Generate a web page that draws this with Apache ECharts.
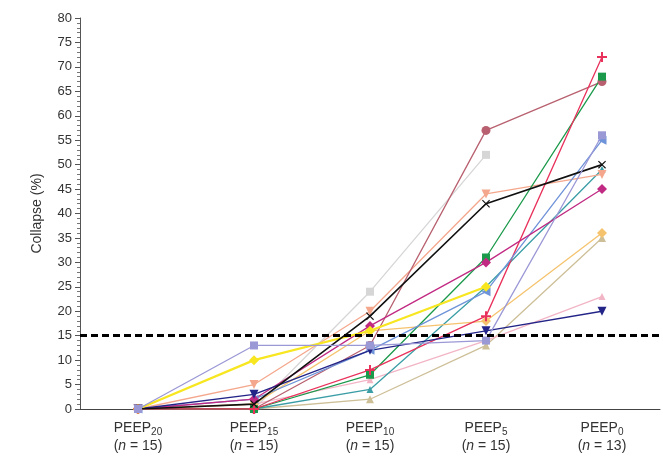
<!DOCTYPE html>
<html>
<head>
<meta charset="utf-8">
<script src="https://cdn.jsdelivr.net/npm/echarts@6/dist/echarts.min.js"></script>
<style>
  html, body { margin: 0; padding: 0; background: #fff; }
  #chart { width: 663px; height: 459px; }
</style>
</head>
<body>
<div id="chart"></div>
<script>
// PEEP levels and patient counts per level
const peepLevels = ['20', '15', '10', '5', '0'];
const patientCounts = [15, 15, 15, 15, 13];
const yTicks = { min: 0, max: 80, interval: 5 };
const threshold = 15;

// Collapse (%) per subject at each PEEP step
const crimson  = [0, 0, 8, 19, 72];
const green    = [0, 0, 7, 31, 68];
const mauve    = [0, 0, 13, 57, 67];
const lavender = [0, 13, 13, 14, 56];
const blue     = [0, 2, 12, 24, 55];
const black    = [0, 1, 19, 42, 50];
const teal     = [0, 0, 4, 25, 49];
const peach    = [0, 5, 20, 44, 48];
const magenta  = [0, 2, 17, 30, 45];
const orange   = [0, 1, 16, 18, 36];
const tan      = [0, 0, 2, 13, 35];
const pink     = [0, 1, 6, 14, 23];
const navy     = [0, 3, 12, 16, 20];
const gray     = [0, 0, 24, 52, null];
const yellow   = [0, 10, 16, 25, null];

const crossPath = 'path://M0,1 L1,0 L5,4 L9,0 L10,1 L6,5 L10,9 L9,10 L5,6 L1,10 L0,9 L4,5 Z';
const plusPath = 'path://M4,0 H6 V4 H10 V6 H6 V10 H4 V6 H0 V4 H4 Z';

function subject(data, color, symbol, opts) {
  opts = opts || {};
  return {
    type: 'line',
    data: data,
    symbol: symbol,
    symbolSize: opts.size || 8,
    symbolRotate: opts.rotate || 0,
    connectNulls: false,
    lineStyle: { color: color, width: opts.width || 1.3 },
    itemStyle: { color: color },
    z: opts.z || 2,
    silent: true,
    animation: false
  };
}

const series = [
  subject(gray, '#d6d6d6', 'rect', { size: 8 }),
  subject(tan, '#cdbf98', 'triangle', { size: 8 }),
  subject(pink, '#f2b5c6', 'triangle', { size: 7 }),
  subject(teal, '#3b9ea6', 'triangle', { size: 7 }),
  subject(orange, '#f5c36e', 'diamond', { size: 10 }),
  subject(peach, '#f4a78c', 'triangle', { size: 9, rotate: 180 }),
  subject(mauve, '#b8606f', 'circle', { size: 9 }),
  subject(green, '#1b9a4b', 'rect', { size: 8 }),
  subject(crimson, '#e8325c', plusPath, { size: 10 }),
  subject(blue, '#6e93d8', 'triangle', { size: 9, rotate: 90 }),
  subject(magenta, '#c12a83', 'diamond', { size: 10 }),
  subject(navy, '#232487', 'triangle', { size: 9, rotate: 180 }),
  subject(black, '#111111', crossPath, { size: 8, width: 1.6, z: 3 }),
  subject(yellow, '#f7e620', 'diamond', { size: 10, width: 2.2 }),
  subject(lavender, '#9b98d6', 'rect', { size: 8, z: 4 })
];

// Dashed 15 % reference line across the plot
series.push({
  type: 'line',
  data: [],
  silent: true,
  animation: false,
  markLine: {
    silent: true,
    symbol: ['none', 'none'],
    label: { show: false },
    lineStyle: { color: '#000', type: [7, 4], width: 3 },
    data: [{ yAxis: threshold }]
  },
  z: 5
});

const chart = echarts.init(document.getElementById('chart'), null, { renderer: 'canvas' });
chart.setOption({
  backgroundColor: '#fff',
  animation: false,
  grid: { left: 80, right: 3, top: 18, bottom: 50, containLabel: false },
  xAxis: {
    type: 'category',
    data: peepLevels,
    boundaryGap: true,
    axisLine: { lineStyle: { color: '#444', width: 1 } },
    axisTick: { show: false },
    axisLabel: {
      interval: 0,
      margin: 10,
      formatter: function (v, i) {
        return '{m|PEEP}{s|' + v + '}\n{m|(}{i|n}{m| = ' + patientCounts[i] + ')}';
      },
      rich: {
        m: { fontFamily: 'Liberation Sans', fontSize: 14, color: '#333', lineHeight: 18 },
        s: { fontFamily: 'Liberation Sans', fontSize: 10, color: '#333', lineHeight: 18, padding: [9, 0, 0, 0] },
        i: { fontFamily: 'Liberation Sans', fontSize: 14, fontStyle: 'italic', color: '#333', lineHeight: 18 }
      }
    },
    splitLine: { show: false }
  },
  yAxis: {
    type: 'value',
    min: yTicks.min,
    max: yTicks.max,
    interval: yTicks.interval,
    name: 'Collapse (%)',
    nameLocation: 'middle',
    nameGap: 36,
    nameTextStyle: { fontFamily: 'Liberation Sans', fontSize: 14, color: '#333' },
    axisLine: { show: true, lineStyle: { color: '#555', width: 1 } },
    axisTick: { show: true, length: 5, lineStyle: { color: '#555' } },
    minorTick: { show: true, splitNumber: 5, length: 3, lineStyle: { color: '#777' } },
    axisLabel: { fontFamily: 'Liberation Sans', fontSize: 13, color: '#333', margin: 8 },
    splitLine: { show: false }
  },
  series: series
});
</script>
</body>
</html>
